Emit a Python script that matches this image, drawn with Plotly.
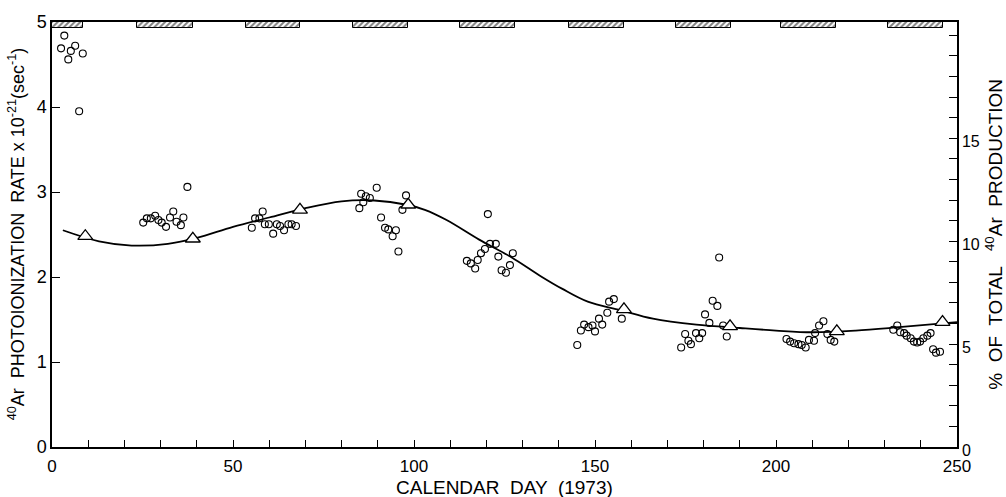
import plotly.graph_objects as go

# Observation periods marked along the top edge (calendar day start / end)
period_start = [0.0, 23.5, 53.5, 83.2, 112.8, 142.8, 172.4, 201.4, 231.0]
period_end = [8.6, 39.0, 68.5, 98.4, 128.0, 158.0, 187.6, 216.6, 246.0]

# Individual photoionization-rate measurements (x 10^-21 sec^-1)
obs_day = [
    2.5, 3.4, 4.5, 5.2, 6.4, 8.5, 7.5,
    25.2, 26.2, 27.3, 28.5, 29.4, 30.3, 31.5, 32.6, 33.5, 34.4, 35.6, 36.3, 37.4,
    55.2, 56.1, 57.3, 58.2, 58.8, 59.9, 61.1, 62.1, 63.0, 64.1, 65.3, 66.2, 67.4,
    84.9, 85.4, 86.0, 86.7, 87.8, 89.7, 90.9, 92.0, 92.9, 94.1, 95.0, 95.7, 96.8, 97.8,
    114.6, 115.7, 116.9, 117.6, 118.5, 119.6, 120.4, 121.0, 122.6, 123.3, 124.2, 125.4, 126.5, 127.3,
    145.1, 146.1, 147.0, 148.2, 149.3, 150.0, 151.1, 152.0, 153.4, 153.9, 155.2, 157.4,
    173.8, 174.9, 175.8, 176.5, 177.9, 178.8, 179.6, 180.4, 181.6, 182.5, 183.8, 184.3, 185.4, 186.4,
    202.9, 203.9, 205.0, 206.2, 207.1, 208.2, 209.1, 210.5, 210.8, 211.9, 213.1, 214.2, 215.1, 216.1,
    232.4, 233.5, 234.3, 235.4, 236.1, 237.2, 238.1, 239.0, 239.8, 240.7, 241.8, 242.7, 243.4, 244.2, 245.3,
]
obs_rate = [
    4.69, 4.84, 4.56, 4.66, 4.72, 4.63, 3.95,
    2.64, 2.69, 2.69, 2.72, 2.67, 2.64, 2.59, 2.70, 2.77, 2.65, 2.61, 2.70, 3.06,
    2.58, 2.69, 2.69, 2.77, 2.62, 2.62, 2.51, 2.62, 2.60, 2.55, 2.62, 2.62, 2.60,
    2.81, 2.98, 2.88, 2.95, 2.93, 3.05, 2.70, 2.58, 2.56, 2.48, 2.55, 2.30, 2.79, 2.96,
    2.19, 2.16, 2.10, 2.20, 2.28, 2.33, 2.74, 2.39, 2.39, 2.24, 2.08, 2.05, 2.14, 2.28,
    1.20, 1.37, 1.44, 1.41, 1.43, 1.36, 1.51, 1.44, 1.58, 1.71, 1.74, 1.51,
    1.17, 1.33, 1.25, 1.21, 1.34, 1.28, 1.34, 1.56, 1.46, 1.72, 1.66, 2.23, 1.43, 1.30,
    1.27, 1.24, 1.22, 1.21, 1.20, 1.17, 1.26, 1.25, 1.34, 1.43, 1.48, 1.33, 1.26, 1.24,
    1.38, 1.43, 1.35, 1.34, 1.31, 1.28, 1.24, 1.23, 1.24, 1.28, 1.31, 1.34, 1.15, 1.11, 1.12,
]

# Period mean values
avg_day = [9.2, 38.9, 68.5, 98.4, 158.0, 187.3, 216.8, 246.0]
avg_rate = [2.48, 2.45, 2.79, 2.85, 1.62, 1.42, 1.36, 1.47]

# Smoothed trend curve
trend_day = [3, 13, 22, 32, 40, 50, 60, 70, 80, 89, 98, 103, 109, 118, 127, 135,
             141, 148, 157, 166, 178, 190, 200, 210, 222, 234, 250]
trend_rate = [2.55, 2.42, 2.37, 2.39, 2.46, 2.59, 2.70, 2.81, 2.89, 2.90, 2.85, 2.79,
              2.67, 2.44, 2.23, 2.01, 1.86, 1.71, 1.61, 1.51, 1.44, 1.40, 1.37, 1.35,
              1.37, 1.41, 1.47]

# Axis ranges: left in rate units, right in percent of total production
RATE_MAX = 5.0
PCT_MAX = 20.65

FONT = "Liberation Sans"
INK = "black"

fig = go.Figure()

# Hatched observation-period bars hugging the top frame
fig.add_trace(go.Bar(
    x=[(s + e) / 2 for s, e in zip(period_start, period_end)],
    width=[e - s for s, e in zip(period_start, period_end)],
    y=[0.07] * len(period_start),
    base=[RATE_MAX - 0.07] * len(period_start),
    marker=dict(color="white", line=dict(color=INK, width=1),
                pattern=dict(shape="/", fgcolor=INK, bgcolor="white", size=4, solidity=0.5)),
    showlegend=False, hoverinfo="skip",
))

fig.add_trace(go.Scatter(
    x=trend_day, y=trend_rate, mode="lines",
    line=dict(color=INK, width=1.8, shape="spline", smoothing=1.0),
    showlegend=False,
))

fig.add_trace(go.Scatter(
    x=obs_day, y=obs_rate, mode="markers",
    marker=dict(symbol="circle-open", size=7, color=INK, line=dict(width=1.1)),
    showlegend=False,
))

fig.add_trace(go.Scatter(
    x=avg_day, y=avg_rate, mode="markers",
    marker=dict(symbol="triangle-up", size=13, color="white",
                line=dict(color=INK, width=1.3)),
    showlegend=False,
))

# Invisible trace that carries the right-hand percent axis
fig.add_trace(go.Scatter(x=[0], y=[0], yaxis="y2", mode="markers",
                         marker=dict(opacity=0), showlegend=False, hoverinfo="skip"))

fig.update_layout(
    width=1006, height=497,
    margin=dict(l=52, r=49, t=12, b=50),
    paper_bgcolor="white", plot_bgcolor="white",
    font=dict(family=FONT, color=INK, size=16),
    bargap=0,
    xaxis=dict(
        range=[0, 250], tickvals=[0, 50, 100, 150, 200, 250],
        ticks="inside", ticklen=7, tickwidth=1, tickcolor=INK,
        minor=dict(tickvals=list(range(0, 251, 10)), ticks="inside",
                   ticklen=7, tickwidth=1, tickcolor=INK, showgrid=False),
        showline=True, linecolor=INK, linewidth=1.5, mirror=True,
        showgrid=False, zeroline=False,
        ticklabelstandoff=3,
        tickfont=dict(size=17),
    ),
    yaxis=dict(
        range=[0, RATE_MAX], tickvals=[0, 1, 2, 3, 4, 5],
        ticks="inside", ticklen=8, tickwidth=1, tickcolor=INK,
        showline=True, linecolor=INK, linewidth=1.5,
        showgrid=False, zeroline=False,
        tickfont=dict(size=18),
    ),
    yaxis2=dict(
        range=[0, PCT_MAX], overlaying="y", side="right",
        tickvals=[0, 5, 10, 15],
        ticks="inside", ticklen=8, tickwidth=1, tickcolor=INK,
        minor=dict(tickvals=list(range(0, 21)), ticks="inside",
                   ticklen=8, tickwidth=1, tickcolor=INK, showgrid=False),
        showline=True, linecolor=INK, linewidth=1.5,
        showgrid=False, zeroline=False,
        ticklabelshift=3,
        tickfont=dict(size=16),
    ),
    annotations=[
        dict(text="<sup>40</sup>Ar  PHOTOIONIZATION  RATE x 10<sup>-21</sup>(sec<sup>-1</sup>)",
             xref="paper", yref="paper", x=-0.039, y=0.50,
             xanchor="center", yanchor="middle", textangle=-90,
             showarrow=False, font=dict(size=18)),
        dict(text="%  OF  TOTAL   <sup>40</sup>Ar  PRODUCTION",
             xref="paper", yref="paper", x=1.04, y=0.50,
             xanchor="center", yanchor="middle", textangle=-90,
             showarrow=False, font=dict(size=19)),
        dict(text="CALENDAR  DAY  (1973)",
             xref="paper", yref="paper", x=0.5, y=-0.095,
             xanchor="center", yanchor="middle",
             showarrow=False, font=dict(size=19)),
    ],
)

fig.write_html("out.html")
